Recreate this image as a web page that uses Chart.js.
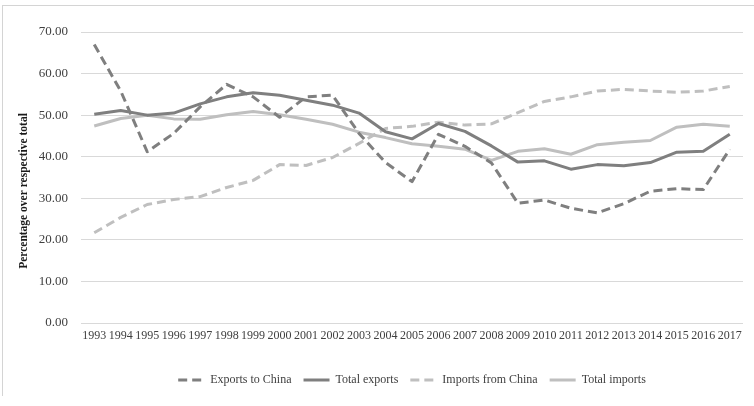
<!DOCTYPE html>
<html>
<head>
<meta charset="utf-8">
<script src="https://cdn.jsdelivr.net/npm/chart.js@4/dist/chart.umd.min.js"></script>
<style>
  html, body { margin: 0; padding: 0; background: #fff; }
  #wrap { position: relative; width: 754px; height: 406px; }
  #frame { position: absolute; left: 2px; top: 5px; width: 800px; height: 391px;
           border-left: 1px solid #d4d4d4; border-top: 1px solid #d4d4d4; box-sizing: border-box; }
  canvas { position: absolute; left: 0; top: 0; }
</style>
</head>
<body>
<div id="wrap">
  <div id="frame"></div>
  <canvas id="c" width="754" height="406"></canvas>
</div>
<script>
const years = ['1993','1994','1995','1996','1997','1998','1999','2000','2001','2002','2003','2004','2005','2006','2007','2008','2009','2010','2011','2012','2013','2014','2015','2016','2017'];
const exportsToChina = [67.0,55.8,41.2,45.6,52.0,57.4,54.4,49.5,54.4,54.8,45.6,38.6,34.0,45.4,42.5,38.5,28.8,29.6,27.6,26.5,28.7,31.7,32.3,32.1,41.8];
const totalExports   = [50.2,51.1,50.0,50.5,52.7,54.4,55.4,54.8,53.6,52.4,50.5,46.0,44.3,48.0,46.1,42.6,38.7,39.0,37.0,38.1,37.8,38.6,41.1,41.3,45.4];
const importsFromChina = [21.7,25.4,28.5,29.7,30.4,32.6,34.3,38.1,37.9,39.8,43.2,46.8,47.3,48.3,47.6,47.9,50.6,53.3,54.4,55.8,56.2,55.8,55.5,55.8,56.9];
const totalImports   = [47.4,49.2,50.0,49.1,49.0,50.1,50.9,50.1,49.0,47.8,45.9,44.6,43.1,42.5,41.8,39.1,41.3,41.9,40.6,42.9,43.5,43.9,47.1,47.8,47.3];
const seriesNames = ['Exports to China','Total exports','Imports from China','Total imports'];
const yTicks = [0,10,20,30,40,50,60,70];
const yTitle = 'Percentage over respective total';

const dark = '#7f7f7f', light = '#bfbfbf';
const FONT = '"Liberation Serif", "DejaVu Serif", serif';

const yTitlePlugin = {
  id: 'yTitle',
  afterLayout(chart) {
    if (chart.legend) { chart.legend.left = chart.chartArea.left; chart.legend.right = chart.chartArea.right; }
  },
  afterDraw(chart) {
    const ctx = chart.ctx;
    ctx.save();
    ctx.translate(24, 191);
    ctx.rotate(-Math.PI / 2);
    ctx.font = 'bold 11.5px ' + FONT;
    ctx.fillStyle = '#1a1a1a';
    ctx.textAlign = 'center';
    ctx.textBaseline = 'middle';
    ctx.fillText(yTitle, 0, 0);
    ctx.restore();
  }
};

new Chart(document.getElementById('c'), {
  type: 'line',
  data: {
    labels: years,
    datasets: [
      { label: seriesNames[0], data: exportsToChina, borderColor: dark, backgroundColor: dark, borderDash: [9,5], borderWidth: 3 },
      { label: seriesNames[1], data: totalExports, borderColor: dark, backgroundColor: dark, borderWidth: 3 },
      { label: seriesNames[2], data: importsFromChina, borderColor: light, backgroundColor: light, borderDash: [9,5], borderWidth: 3 },
      { label: seriesNames[3], data: totalImports, borderColor: light, backgroundColor: light, borderWidth: 3 }
    ]
  },
  options: {
    responsive: false,
    animation: false,
    devicePixelRatio: 1,
    elements: { point: { radius: 0 }, line: { tension: 0, borderCapStyle: 'butt', borderJoinStyle: 'round' } },
    layout: { padding: { left: 2, top: 32, right: 11, bottom: 10 } },
    plugins: {
      legend: {
        position: 'bottom',
        labels: {
          usePointStyle: true,
          pointStyle: 'line',
          pointStyleWidth: 26,
          boxWidth: 26,
          padding: 12,
          color: '#404040',
          font: { family: FONT, size: 12 },
          generateLabels(chart) {
            const items = Chart.defaults.plugins.legend.labels.generateLabels(chart);
            items.forEach(it => {
              const ds = chart.data.datasets[it.datasetIndex];
              it.lineDash = ds.borderDash || [];
              it.lineWidth = 3;
              it.strokeStyle = ds.borderColor;
              it.pointStyle = 'line';
            });
            return items;
          }
        }
      },
      tooltip: { enabled: false }
    },
    scales: {
      x: {
        offset: true,
        grid: { display: false, drawTicks: false },
        border: { display: false },
        ticks: { color: '#404040', font: { family: FONT, size: 12 }, maxRotation: 0, autoSkip: false, padding: 6 },
        afterFit(s) { s.height = 39; }
      },
      y: {
        min: 0, max: 70,
        afterBuildTicks(s) { s.ticks = yTicks.map(v => ({ value: v })); },
        grid: { color: '#d9d9d9', lineWidth: 1, drawTicks: false },
        border: { display: false },
        ticks: { color: '#404040', font: { family: FONT, size: 13 }, padding: 13, callback: v => Number(v).toFixed(2) },
        afterFit(s) { s.width = 79; }
      }
    }
  },
  plugins: [yTitlePlugin]
});
</script>
</body>
</html>
